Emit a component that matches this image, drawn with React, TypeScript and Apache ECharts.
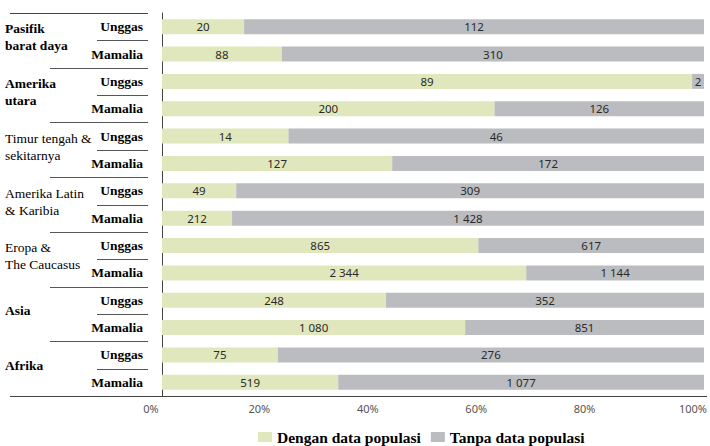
import React, { useEffect, useRef } from "react";
import * as echarts from "echarts";

// Species counts per region and class
const regions = [
  "Pasifik barat daya",
  "Amerika utara",
  "Timur tengah & sekitarnya",
  "Amerika Latin & Karibia",
  "Eropa & The Caucasus",
  "Asia",
  "Afrika",
];
const regionLines = [
  ["Pasifik", "barat daya"],
  ["Amerika", "utara"],
  ["Timur tengah &", "sekitarnya"],
  ["Amerika Latin", "& Karibia"],
  ["Eropa &", "The Caucasus"],
  ["Asia"],
  ["Afrika"],
];
const regionBold = [true, true, false, false, false, true, true];
const classes = ["Unggas", "Mamalia"];

// [Unggas, Mamalia] per region
const withData = [
  [20, 88],
  [89, 200],
  [14, 127],
  [49, 212],
  [865, 2344],
  [248, 1080],
  [75, 519],
];
const withoutData = [
  [112, 310],
  [2, 126],
  [46, 172],
  [309, 1428],
  [617, 1144],
  [352, 851],
  [276, 1077],
];

const seriesNames = ["Dengan data populasi", "Tanpa data populasi"];
const xTicks = [0, 20, 40, 60, 80, 100];

const GREEN = "#e0e7bd";
const GREY = "#babcbf";

const SERIF = "'Liberation Serif', 'Times New Roman', serif";
const SANS = "'Liberation Sans Narrow', 'Noto Sans', sans-serif";

const fmt = (v: number) => String(v).replace(/\B(?=(\d{3})+(?!\d))/g, " ");

export default function App() {
  const ref = useRef<HTMLDivElement>(null);

  useEffect(() => {
    if (!ref.current) return;
    const chart = echarts.init(ref.current, null, { renderer: "svg" });

    const W = 710;
    const H = 446;
    const gridLeft = 162;
    const gridRight = 3;
    const gridTop = 13;
    const gridBottom = 50;
    const axisX = 148;
    const plotBottom = H - gridBottom;

    const cats: string[] = [];
    const rawWith: number[] = [];
    const rawWithout: number[] = [];
    regions.forEach((_, r) => {
      classes.forEach((c, k) => {
        cats.push(c);
        rawWith.push(withData[r][k]);
        rawWithout.push(withoutData[r][k]);
      });
    });
    const pctWith = rawWith.map((v, i) => (v / (v + rawWithout[i])) * 100);
    const pctWithout = rawWithout.map((v, i) => (v / (rawWith[i] + v)) * 100);

    const rowH = (plotBottom - gridTop) / cats.length;

    const graphics: any[] = [];
    // frame lines on the left label column
    graphics.push({
      type: "line",
      shape: { x1: 10, y1: gridTop + 0.5, x2: axisX, y2: gridTop + 0.5 },
      style: { stroke: "#444", lineWidth: 1 },
    });
    graphics.push({
      type: "line",
      shape: { x1: 10, y1: plotBottom + 0.5, x2: W - gridRight, y2: plotBottom + 0.5 },
      style: { stroke: "#444", lineWidth: 1 },
    });
    for (let k = 1; k < cats.length; k++) {
      const y = Math.round(gridTop + k * rowH) + 0.5;
      const x1 = k % 2 === 1 ? 97 : 50;
      graphics.push({
        type: "line",
        shape: { x1, y1: y, x2: axisX, y2: y },
        style: { stroke: "#555", lineWidth: 1 },
      });
    }
    regionLines.forEach((lines, r) => {
      const cy = gridTop + (2 * r + 1) * rowH - 3;
      graphics.push({
        type: "text",
        x: 5,
        y: cy,
        style: {
          text: lines.join("\n"),
          fontFamily: SERIF,
          fontWeight: regionBold[r] ? "bold" : "normal",
          fontSize: 13.5,
          fill: "#000",
          lineHeight: 17,
          verticalAlign: "middle",
          align: "left",
        },
      });
    });

    const labelStyle = {
      show: true,
      position: "inside",
      color: "#2a2a2a",
      fontSize: 11.5,
      fontFamily: SANS,
    };

    chart.setOption({
      animation: false,
      grid: {
        left: gridLeft,
        right: gridRight,
        top: gridTop,
        bottom: gridBottom,
        containLabel: false,
      },
      legend: {
        left: 258,
        top: 429,
        padding: 0,
        itemWidth: 14,
        itemHeight: 10,
        itemGap: 10,
        icon: "rect",
        textStyle: {
          fontFamily: SERIF,
          fontWeight: "bold",
          fontSize: 15.5,
          color: "#000",
        },
        data: seriesNames,
      },
      xAxis: {
        type: "value",
        min: xTicks[0],
        max: xTicks[xTicks.length - 1],
        interval: xTicks[1] - xTicks[0],
        axisLine: { show: false },
        axisTick: { show: false },
        splitLine: { show: false },
        axisLabel: {
          formatter: "{value}%",
          color: "#555",
          fontSize: 11,
          fontFamily: SANS,
          margin: 7,
          padding: [0, 22, 0, 0],
        },
      },
      yAxis: {
        type: "category",
        data: cats,
        inverse: true,
        offset: gridLeft - axisX,
        axisLine: { show: true, lineStyle: { color: "#444", width: 1 } },
        axisTick: { show: false },
        axisLabel: {
          color: "#000",
          fontWeight: "bold",
          fontSize: 13.5,
          fontFamily: SERIF,
          margin: 5,
        },
      },
      series: [
        {
          name: seriesNames[0],
          type: "bar",
          stack: "total",
          barWidth: 15,
          itemStyle: { color: GREEN },
          data: pctWith,
          label: { ...labelStyle, formatter: (p: any) => fmt(rawWith[p.dataIndex]) },
        },
        {
          name: seriesNames[1],
          type: "bar",
          stack: "total",
          barWidth: 15,
          itemStyle: { color: GREY },
          data: pctWithout,
          label: { ...labelStyle, formatter: (p: any) => fmt(rawWithout[p.dataIndex]) },
        },
      ],
      graphic: graphics,
    });

    return () => chart.dispose();
  }, []);

  return (
    <div
      ref={ref}
      style={{ width: 710, height: 446, position: "absolute", left: 0, top: 0 }}
    />
  );
}
